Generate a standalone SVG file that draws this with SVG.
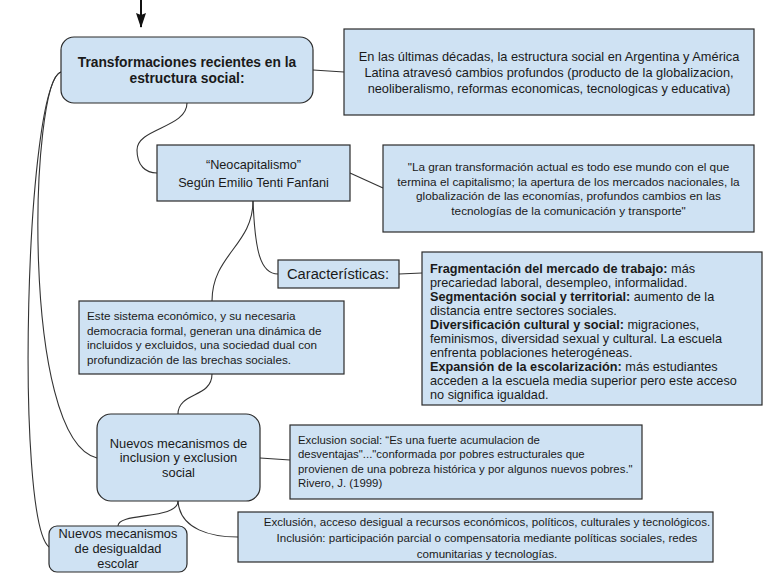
<svg xmlns="http://www.w3.org/2000/svg" width="768" height="576" viewBox="0 0 768 576">
<style>
.box{fill:#cfe2f3;stroke:#2b2b2b;stroke-width:1.2}
.t{font-family:"Liberation Sans",Arial,sans-serif;fill:#1a1a1a}
.c{text-anchor:middle}
.b{font-weight:bold}
.con{fill:none;stroke:#333;stroke-width:1.1}
</style>
<rect width="768" height="576" fill="#fff"/>
<g id="connectors">
<path d="M141,0 L141,27" stroke="#111" stroke-width="2" fill="none"/>
<path d="M136,13 L141,15 L146,13 L141,28 Z" fill="#111"/>
<path class="con" d="M313,70 L344,72"/>
<path class="con" d="M187,103 C187,128 137,128 137,150 C137,166 146,173 157,173"/>
<path class="con" d="M350,173 L383,188"/>
<path class="con" d="M253,201 C253,245 212,255 212,301"/>
<path class="con" d="M253,201 C255,250 260,274 278,274"/>
<path class="con" d="M399,274 L422,273"/>
<path class="con" d="M212,374 C212,398 178,392 178,414"/>
<path class="con" d="M260,458 L290,460"/>
<path class="con" d="M178,501 C180,530 212,537 238,537"/>
<path class="con" d="M178,501 C178,520 118,512 118,526"/>
<path class="con" d="M61,72 C30,80 20,440 97,458"/>
<path class="con" d="M61,72 C25,85 15,520 49,547"/>
</g>
<g id="n-main">
<rect class="box" x="61" y="37" width="252" height="66" rx="13"/>
<text class="t c b" font-size="13.8" x="187" y="66.5">Transformaciones recientes en la</text>
<text class="t c b" font-size="13.8" x="187" y="83">estructura social:</text>
</g>
<g id="n-contexto">
<rect class="box" x="344" y="29" width="410" height="86"/>
<text class="t c" font-size="12.8" x="549" y="60.5">En las últimas décadas, la estructura social en Argentina y América</text>
<text class="t c" font-size="12.8" x="549" y="76.5">Latina atravesó cambios profundos (producto de la globalizacion,</text>
<text class="t c" font-size="12.8" x="549" y="92.5">neoliberalismo, reformas economicas, tecnologicas y educativa)</text>
</g>
<g id="n-neocap">
<rect class="box" x="157" y="145" width="193" height="56"/>
<text class="t c" font-size="12.7" x="253.5" y="168.5">“Neocapitalismo”</text>
<text class="t c" font-size="12.7" x="253.5" y="186.5">Según Emilio Tenti Fanfani</text>
</g>
<g id="n-cita">
<rect class="box" x="383" y="145" width="371" height="87"/>
<text class="t c" font-size="11.8" x="568.5" y="171">"La gran transformación actual es todo ese mundo con el que</text>
<text class="t c" font-size="11.8" x="568.5" y="185.5">termina el capitalismo; la apertura de los mercados nacionales, la</text>
<text class="t c" font-size="11.8" x="568.5" y="200">globalización de las economías, profundos cambios en las</text>
<text class="t c" font-size="11.8" x="568.5" y="214.5">tecnologías de la comunicación y transporte"</text>
</g>
<g id="n-caract">
<rect class="box" x="278" y="260" width="121" height="28"/>
<text class="t" font-size="14.7" x="287" y="279">Características:</text>
</g>
<g id="n-lista">
<rect class="box" x="422" y="252" width="340" height="153"/>
<text class="t" font-size="12.7" x="430" y="272.5"><tspan class="b">Fragmentación del mercado de trabajo:</tspan> más</text>
<text class="t" font-size="12.7" x="430" y="286.6">precariedad laboral, desempleo, informalidad.</text>
<text class="t" font-size="12.7" x="430" y="300.7"><tspan class="b">Segmentación social y territorial:</tspan> aumento de la</text>
<text class="t" font-size="12.7" x="430" y="314.8">distancia entre sectores sociales.</text>
<text class="t" font-size="12.7" x="430" y="328.9"><tspan class="b">Diversificación cultural y social:</tspan> migraciones,</text>
<text class="t" font-size="12.7" x="430" y="343">feminismos, diversidad sexual y cultural. La escuela</text>
<text class="t" font-size="12.7" x="430" y="357.1">enfrenta poblaciones heterogéneas.</text>
<text class="t" font-size="12.7" x="430" y="371.2"><tspan class="b">Expansión de la escolarización:</tspan> más estudiantes</text>
<text class="t" font-size="12.7" x="430" y="385.3">acceden a la escuela media superior pero este acceso</text>
<text class="t" font-size="12.7" x="430" y="399.4">no significa igualdad.</text>
</g>
<g id="n-sistema">
<rect class="box" x="79" y="301" width="265" height="73"/>
<text class="t" font-size="11.7" x="87" y="320">Este sistema económico, y su necesaria</text>
<text class="t" font-size="11.7" x="87" y="334.5">democracia formal, generan una dinámica de</text>
<text class="t" font-size="11.7" x="87" y="349">incluidos y excluidos, una sociedad dual con</text>
<text class="t" font-size="11.7" x="87" y="363.5">profundización de las brechas sociales.</text>
</g>
<g id="n-mecanismos">
<rect class="box" x="97" y="414" width="163" height="87" rx="14"/>
<text class="t c" font-size="12.9" x="178.5" y="447.5">Nuevos mecanismos de</text>
<text class="t c" font-size="12.9" x="178.5" y="462">inclusion y exclusion</text>
<text class="t c" font-size="12.9" x="178.5" y="476.5">social</text>
</g>
<g id="n-exclusion">
<rect class="box" x="290" y="425" width="352" height="74"/>
<text class="t" font-size="11.4" x="298" y="444">Exclusion social: “Es una fuerte acumulacion de</text>
<text class="t" font-size="11.4" x="298" y="458.3">desventajas"..."conformada por pobres estructurales que</text>
<text class="t" font-size="11.4" x="298" y="472.6">provienen de una pobreza histórica y por algunos nuevos pobres."</text>
<text class="t" font-size="11.4" x="298" y="487">Rivero, J. (1999)</text>
</g>
<g id="n-acceso">
<rect class="box" x="238" y="512" width="475" height="50"/>
<text class="t c" font-size="11.6" x="487" y="526">Exclusión, acceso desigual a recursos económicos, políticos, culturales y tecnológicos.</text>
<text class="t c" font-size="11.6" x="487" y="542">Inclusión: participación parcial o compensatoria mediante políticas sociales, redes</text>
<text class="t c" font-size="11.6" x="487" y="558">comunitarias y tecnologías.</text>
</g>
<g id="n-desigualdad">
<rect class="box" x="49" y="526" width="138" height="46" rx="8"/>
<text class="t c" font-size="12.8" x="118" y="537.5">Nuevos mecanismos</text>
<text class="t c" font-size="12.8" x="118" y="552.5">de desigualdad</text>
<text class="t c" font-size="12.8" x="118" y="567.5">escolar</text>
</g>
</svg>
